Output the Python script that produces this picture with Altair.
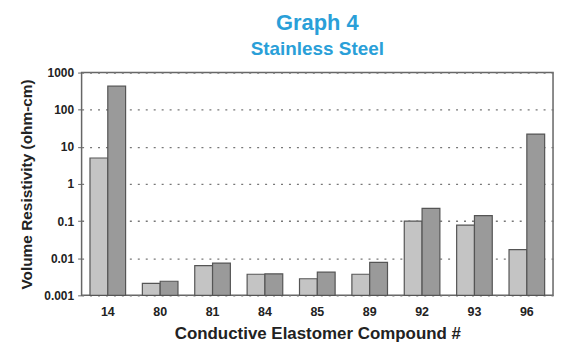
import altair as alt
import pandas as pd

compounds = ["14", "80", "81", "84", "85", "89", "92", "93", "96"]
series_a = [5.0, 0.0021, 0.0063, 0.0037, 0.0028, 0.0037, 0.10, 0.078, 0.017]
series_b = [430, 0.0024, 0.0074, 0.0038, 0.0042, 0.0077, 0.22, 0.14, 22]
y_ticks = [0.001, 0.01, 0.1, 1, 10, 100, 1000]

rows = []
for c, a, b in zip(compounds, series_a, series_b):
    rows.append({"compound": c, "series": "A", "value": a, "base": 0.001})
    rows.append({"compound": c, "series": "B", "value": b, "base": 0.001})
df = pd.DataFrame(rows)

bars = alt.Chart(df).mark_bar(stroke="#555555", strokeWidth=1.2).encode(
    x=alt.X("compound:N", sort=compounds,
            scale=alt.Scale(paddingInner=0.32, paddingOuter=0.16),
            axis=alt.Axis(title="Conductive Elastomer Compound #", labelAngle=0,
                          labelFont="Liberation Sans", labelFontWeight="bold", labelFontSize=12.5,
                          labelColor="#222222", labelPadding=10,
                          titleFont="Liberation Sans", titleFontWeight="bold", titleFontSize=17,
                          titleColor="#222222", titlePadding=8,
                          ticks=False, domain=False)),
    xOffset=alt.XOffset("series:N", scale=alt.Scale(paddingInner=0)),
    y=alt.Y("value:Q",
            scale=alt.Scale(type="log", domain=[0.001, 1000], nice=False),
            axis=alt.Axis(title="Volume Resistivity (ohm-cm)", values=y_ticks,
                          labelExpr="datum.value >= 1 ? format(datum.value, 'd') : format(datum.value, '.3~f')",
                          labelFont="Liberation Sans", labelFontWeight="bold", labelFontSize=12,
                          labelColor="#222222", labelPadding=4,
                          titleFont="Liberation Sans", titleFontWeight="bold", titleFontSize=15.5,
                          titleColor="#222222", titlePadding=9,
                          tickSize=4, tickColor="#666666", domain=False,
                          grid=True, gridDash=[2, 6], gridColor="#777777", gridWidth=1.3)),
    y2="base:Q",
    color=alt.Color("series:N", scale=alt.Scale(domain=["A", "B"], range=["#c4c4c4", "#9a9a9a"]),
                    legend=None),
)

chart = bars.properties(
    width=474, height=224,
    padding={"left": 11, "top": 3, "right": 5, "bottom": 2},
    background="white",
    title=alt.TitleParams(text="Graph 4", subtitle="Stainless Steel",
                          font="Liberation Sans", fontSize=22, fontWeight="bold", color="#2a9fd8",
                          subtitleFont="Liberation Sans", subtitleFontSize=19, subtitleFontWeight="bold",
                          subtitleColor="#2a9fd8", anchor="middle", offset=7, subtitlePadding=5),
).configure_view(stroke="#666666", strokeWidth=1.5)

chart.save("out.html", embed_options={"renderer": "svg", "actions": False})
